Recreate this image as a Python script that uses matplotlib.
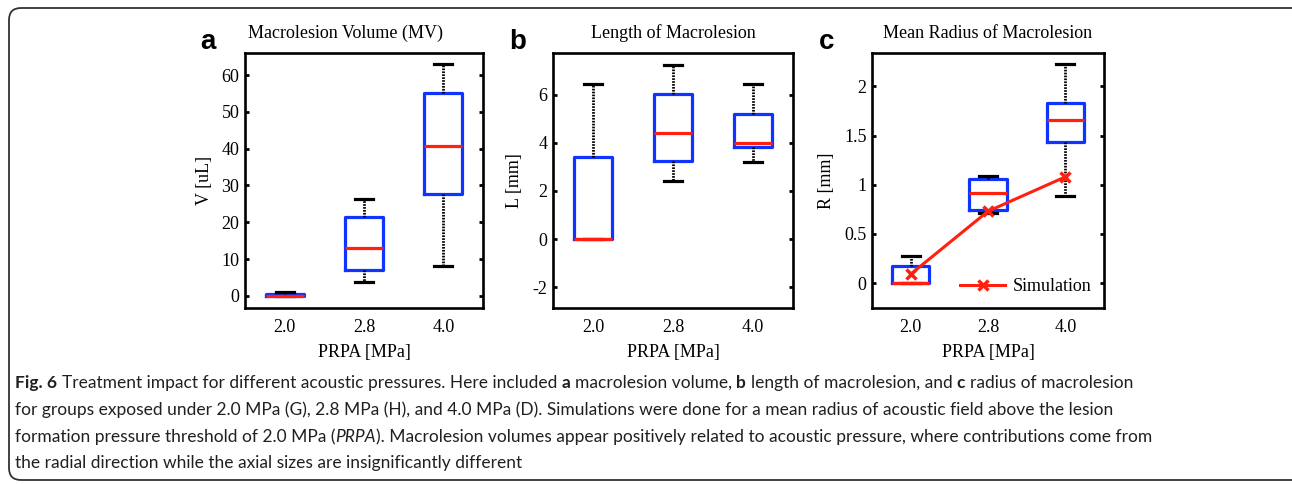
import matplotlib
matplotlib.use('Agg')
import matplotlib.pyplot as plt
from matplotlib.patches import FancyBboxPatch

# groups and box statistics read per pressure level
groups = ['2.0', '2.8', '4.0']

vol_lo = [0.0, 3.9, 8.2]
vol_q1 = [0.0, 7.1, 27.6]
vol_med = [0.0, 13.0, 40.6]
vol_q3 = [0.4, 21.3, 55.1]
vol_hi = [1.0, 26.2, 63.0]

len_lo = [0.0, 2.42, 3.21]
len_q1 = [0.0, 3.24, 3.83]
len_med = [0.0, 4.41, 4.01]
len_q3 = [3.41, 6.02, 5.19]
len_hi = [6.43, 7.25, 6.43]

rad_lo = [0.0, 0.71, 0.89]
rad_q1 = [0.0, 0.745, 1.43]
rad_med = [0.0, 0.915, 1.66]
rad_q3 = [0.176, 1.06, 1.83]
rad_hi = [0.27, 1.09, 2.23]

sim_radius = [0.09, 0.73, 1.08]

W, H = 1292, 484
fig = plt.figure(figsize=(W / 100, H / 100), dpi=100)
serif = 'Liberation Serif'
BLUE = '#1034ff'
RED = '#ff2010'


def stats(lo, q1, med, q3, hi):
    return [dict(label=g, whislo=a, q1=b, med=c, q3=d, whishi=e, fliers=[])
            for g, a, b, c, d, e in zip(groups, lo, q1, med, q3, hi)]


def panel(rect, st, title, ylabel, ylim, yticks, yticklabels, letter, letter_x, title_x=0.5, ylab_x=-0.13):
    ax = fig.add_axes(rect)
    ax.bxp(st, positions=[1, 2, 3], widths=0.48, showfliers=False,
           boxprops=dict(color=BLUE, lw=2.3),
           medianprops=dict(color=RED, lw=2.3),
           whiskerprops=dict(color='black', lw=2.0, linestyle=(0, (0.6, 0.45))),
           capprops=dict(color='black', lw=2.3), capwidths=0.23)
    ax.set_xlim(0.5, 3.5)
    ax.set_ylim(*ylim)
    ax.set_yticks(yticks)
    ax.set_yticklabels(yticklabels)
    ax.set_xticks([1, 2, 3])
    ax.set_xticklabels(groups)
    for s in ax.spines.values():
        s.set_linewidth(1.9)
    ax.tick_params(axis='y', direction='in', length=3, width=2, right=True, pad=4,
                   labelsize=13)
    ax.tick_params(axis='x', length=0, pad=8, labelsize=13)
    for lab in ax.get_xticklabels() + ax.get_yticklabels():
        lab.set_fontfamily(serif)
    ax.set_title(title, fontsize=13, family=serif, pad=11, x=title_x)
    ax.set_xlabel('PRPA [MPa]', fontsize=13, family=serif, labelpad=6)
    ax.set_ylabel(ylabel, fontsize=13, family=serif)
    ax.yaxis.set_label_coords(ylab_x, 0.5)
    fig.text(letter_x / W, 1 - 42 / H, letter, fontsize=20, fontweight='bold',
             family='Liberation Sans', ha='center', va='center')
    return ax


bottom = 1 - 308 / H
height = 255 / H

panel([245 / W, bottom, 238 / W, height], stats(vol_lo, vol_q1, vol_med, vol_q3, vol_hi),
      'Macrolesion Volume (MV)', 'V [uL]', (-3.3, 66), range(0, 61, 10),
      [str(v) for v in range(0, 61, 10)], 'a', 208, title_x=0.424, ylab_x=-0.134)

panel([553 / W, bottom, 240 / W, height], stats(len_lo, len_q1, len_med, len_q3, len_hi),
      'Length of Macrolesion', 'L [mm]', (-2.86, 7.73), [-2, 0, 2, 4, 6],
      ['-2', '0', '2', '4', '6'], 'b', 518, ylab_x=-0.125)

ax_c = panel([872 / W, bottom, 232 / W, height], stats(rad_lo, rad_q1, rad_med, rad_q3, rad_hi),
             'Mean Radius of Macrolesion', 'R [mm]', (-0.254, 2.34), [0, 0.5, 1, 1.5, 2],
             ['0', '0.5', '1', '1.5', '2'], 'c', 827, ylab_x=-0.159)
ax_c.plot([1, 2, 3], sim_radius, color=RED, lw=2.2, marker='x', ms=7, mew=2.5,
          label='Simulation')
ax_c.legend(loc='lower right', frameon=False, prop=dict(family=serif, size=13),
            handlelength=2.5, handletextpad=0.4, borderaxespad=0.3)

# rounded frame around the figure
frame = FancyBboxPatch((9, 4), 1300, 472, boxstyle='round,pad=0,rounding_size=12',
                       transform=None, fill=False, ec='#333333', lw=1.3)
fig.patches.append(frame)

# caption with mixed bold / italic runs
cap_font = 'Lato'
cap_size = 12.5
cap_color = '#231f20'
caption = [
    [('Fig. 6', 'bold', True), ('Treatment impact for different acoustic pressures. Here included', 'normal', True),
     ('a', 'bold', True), ('macrolesion volume,', 'normal', True), ('b', 'bold', True),
     ('length of macrolesion, and', 'normal', True), ('c', 'bold', True), ('radius of macrolesion', 'normal', False)],
    [('for groups exposed under 2.0 MPa (G), 2.8 MPa (H), and 4.0 MPa (D). Simulations were done for a mean '
      'radius of acoustic field above the lesion', 'normal', False)],
    [('formation pressure threshold of 2.0 MPa (', 'normal', False), ('PRPA', 'italic', False),
     ('). Macrolesion volumes appear positively related to acoustic pressure, where contributions come from',
      'normal', False)],
    [('the radial direction while the axial sizes are insignificantly different', 'normal', False)],
]
line_y = [383, 410, 437, 463]

renderer = fig.canvas.get_renderer()
probe = fig.text(0, 0, 'a a', fontsize=cap_size, family=cap_font)
w_sp = probe.get_window_extent(renderer).width
probe.set_text('aa')
w_sp -= probe.get_window_extent(renderer).width
probe.remove()

for runs, y in zip(caption, line_y):
    x = 15
    for txt, style, gap in runs:
        kw = dict(fontsize=cap_size, family=cap_font, color=cap_color, va='center', ha='left')
        if style == 'bold':
            kw['fontweight'] = 'bold'
        elif style == 'italic':
            kw['fontstyle'] = 'italic'
        t = fig.text(x / W, 1 - y / H, txt, **kw)
        x += t.get_window_extent(renderer).width
        if gap:
            x += w_sp

fig.savefig('out.png', dpi=100)
